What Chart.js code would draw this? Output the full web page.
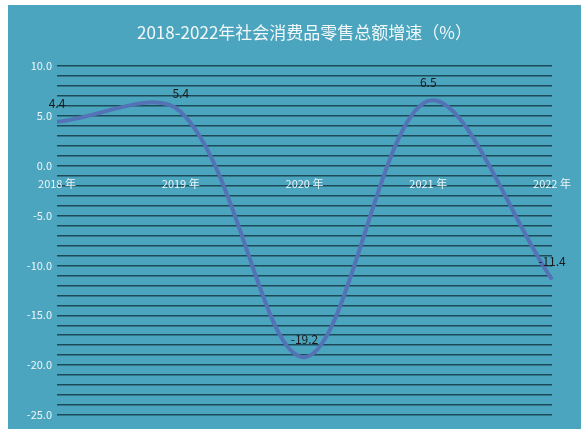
<!DOCTYPE html>
<html>
<head>
<meta charset="utf-8">
<script src="https://cdn.jsdelivr.net/npm/chart.js@4/dist/chart.umd.min.js"></script>
<style>
  body { margin: 0; background: #fff; }
  #wrap { width: 581px; height: 430px; position: relative; }
</style>
</head>
<body>
<div id="wrap"><canvas id="growthChart" width="581" height="430"></canvas></div>
<script>
// data
const years = ["2018 年", "2019 年", "2020 年", "2021 年", "2022 年"];
const growth = [4.4, 5.4, -19.2, 6.5, -11.4];
const titleText = "2018-2022年社会消费品零售总额增速（%）";

const cjk = "'Noto Sans CJK SC', 'Noto Sans', sans-serif";

// teal panel behind everything, title on top
const panelPlugin = {
    id: "panel",
    beforeDraw(chart) {
        const ctx = chart.ctx;
        ctx.save();
        ctx.fillStyle = "#4ba5be";
        ctx.fillRect(8, 5, chart.width - 8, chart.height - 6);
        ctx.fillStyle = "#f2f8fa";
        ctx.font = "17px " + cjk;
        ctx.textAlign = "center";
        ctx.textBaseline = "middle";
        const a = chart.chartArea;
        ctx.fillText(titleText, (a.left + a.right) / 2, 33);
        ctx.restore();
    }
};

// value labels above each point
const labelPlugin = {
    id: "pointLabels",
    afterDatasetsDraw(chart) {
        const ctx = chart.ctx;
        const meta = chart.getDatasetMeta(0);
        ctx.save();
        ctx.fillStyle = "#1a1a1a";
        ctx.font = "12px " + cjk;
        ctx.textAlign = "center";
        ctx.textBaseline = "middle";
        meta.data.forEach((pt, i) => {
            ctx.fillText(growth[i].toFixed(1), pt.x, pt.y - 18);
        });
        ctx.restore();
    }
};

new Chart(document.getElementById("growthChart"), {
    type: "line",
    data: {
        labels: years,
        datasets: [{
            data: growth,
            borderColor: "#5472b6",
            borderWidth: 4,
            pointRadius: 0,
            tension: 0.34,
            fill: false
        }]
    },
    options: {
        responsive: false,
        animation: false,
        layout: { padding: { top: 66, bottom: 15, left: 0, right: 29 } },
        plugins: { legend: { display: false }, tooltip: { enabled: false } },
        scales: {
            x: {
                position: { y: 0 },
                offset: false,
                grid: { display: false },
                border: { display: false },
                ticks: {
                    color: "#eef6f8",
                    font: { family: cjk, size: 11 },
                    padding: 3,
                    maxRotation: 0,
                    autoSkip: false
                }
            },
            y: {
                min: -25,
                max: 10,
                afterFit(scale) { scale.width = 57; },
                grid: { color: "#1d4a58", lineWidth: 1.5, drawTicks: false },
                border: { display: false },
                ticks: {
                    stepSize: 1,
                    maxTicksLimit: 50,
                    autoSkip: false,
                    color: "#eef6f8",
                    font: { family: cjk, size: 11 },
                    padding: 5,
                    callback: v => (v % 5 === 0 ? v.toFixed(1) : "")
                }
            }
        }
    },
    plugins: [panelPlugin, labelPlugin]
});
</script>
</body>
</html>
